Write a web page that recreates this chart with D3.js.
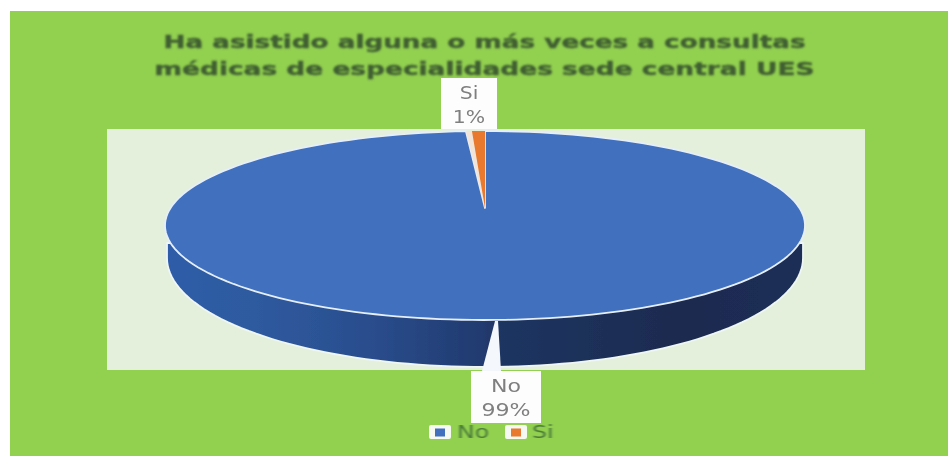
<!DOCTYPE html>
<html><head><meta charset="utf-8">
<script src="https://cdn.jsdelivr.net/npm/d3@7"></script>
<style>html,body{margin:0;padding:0;background:#fff}svg{display:block}text{font-family:"DejaVu Sans",sans-serif}</style>
</head><body><svg id="c" width="948" height="456"></svg>
<script>
const categories = ["No", "Si"];
const seriesValues = [99.35, 0.65];
const percentLabels = ["99%", "1%"];
const titleLines = ["Ha asistido alguna o más veces a consultas", "médicas de especialidades sede central UES"];
const colors = ["#4070be", "#e8792f"];

const svg = d3.select("#c");
const defs = svg.append("defs");
defs.append("filter").attr("id","soft").append("feGaussianBlur").attr("stdDeviation",0.6);
defs.append("filter").attr("id","softT").append("feGaussianBlur").attr("stdDeviation",0.9);
defs.append("filter").attr("id","edge").append("feGaussianBlur").attr("stdDeviation",0.45);
const grad = defs.append("linearGradient").attr("id","side").attr("x1",0).attr("x2",1).attr("y1",0).attr("y2",0);
[[0,"#2f5ca8"],[0.14,"#2f5a9f"],[0.32,"#2a4d8d"],[0.5,"#213a6e"],[0.52,"#1f3562"],[0.8,"#1a2b4f"],[1,"#1b2e56"]]
  .forEach(([o,c])=>grad.append("stop").attr("offset",o).attr("stop-color",c));

svg.append("rect").attr("x",10).attr("y",11).attr("width",938).attr("height",445).attr("fill","#92d050");
svg.append("rect").attr("x",107).attr("y",129).attr("width",758).attr("height",241).attr("fill","#e4efdc");

const cx=485, rimCy=225.5, rx=320, ry=94.5, apexY=208;
const baseCy=258, baseRx=318, baseRy=109;
const xs=d3.scaleLinear().domain([-1,1]).range([cx-rx,cx+rx]);
const ys=d3.scaleLinear().domain([-1,1]).range([rimCy-ry,rimCy+ry]);
const rim=a=>[xs(Math.sin(a)),ys(-Math.cos(a))];
const base=a=>[cx+baseRx*Math.sin(a),baseCy-baseRy*Math.cos(a)];
const line=d3.line();
const total=d3.sum(seriesValues);
const toAngle=d3.scaleLinear().domain([0,total]).range([0,2*Math.PI]);
const noStart=0, noEnd=toAngle(seriesValues[0]), siStart=noEnd, siEnd=2*Math.PI;
const sample=(a,b,n=180)=>d3.range(n+1).map(i=>rim(a+(b-a)*i/n));
const gap=toAngle(0.3);

// side wall, with a pale halo along its lower edge
const front=d3.range(91).map(i=>Math.PI/2+Math.PI*i/90);
const wall=[...front.map(base),[cx-baseRx,243],[cx+baseRx,243]];
svg.append("path").attr("d",line(wall)+"Z").attr("fill","url(#side)").attr("stroke","#eef6f6").attr("stroke-width",1.8).attr("stroke-linejoin","round").attr("filter","url(#edge)");
// notch in the wall under the "No" label
svg.append("path").attr("d",line([[495,321],[498,321],[501,371],[482,371]])+"Z").attr("fill","#f4f7fb").attr("filter","url(#edge)");
// top faces
svg.append("path").attr("d",line([[cx,apexY],...sample(noStart,noEnd-gap)])+"Z").attr("fill",colors[0]).attr("stroke","#e6eff8").attr("stroke-width",1.8).attr("stroke-linejoin","round").attr("filter","url(#edge)");
svg.append("path").attr("d",line([[cx,apexY],...sample(noEnd-gap,noEnd,4)])+"Z").attr("fill","#f3e4da");
svg.append("path").attr("d",line([[cx,apexY],...sample(siStart,siEnd,12)])+"Z").attr("fill",colors[1]).attr("filter","url(#edge)");

// labels
const labelBox=[{x:441,y:78,w:56,h:51,sx:1.2},{x:471,y:371,w:70,h:52,sx:1.3}];
const labelOrder=[1,0];
const stretched=(x,y,sx,anchor,size,fill,str)=>svg.append("text")
  .attr("transform",`translate(${x},${y}) scale(${sx},1)`).attr("text-anchor",anchor)
  .attr("font-size",size).attr("fill",fill).attr("filter","url(#soft)").text(str);
labelOrder.forEach((k,i)=>{
  const b=labelBox[i];
  svg.append("rect").attr("x",b.x).attr("y",b.y).attr("width",b.w).attr("height",b.h).attr("fill","#fdfdfd");
  stretched(b.x+b.w/2,b.y+20.5,b.sx,"middle",17,"#7f7f7f",categories[k]);
  stretched(b.x+b.w/2,b.y+44.5,b.sx,"middle",17,"#7f7f7f",percentLabels[k]);
});

// title
const titleWidth=[642,660];
titleLines.forEach((t,i)=>svg.append("text").attr("x",484.5).attr("y",48+i*27).attr("text-anchor","middle")
  .attr("font-size",18).attr("font-weight","bold").attr("fill","#3f5f30").attr("stroke","#3f5f30").attr("stroke-width",0.4)
  .attr("textLength",titleWidth[i]).attr("lengthAdjust","spacingAndGlyphs")
  .attr("filter","url(#softT)").text(t));

// legend
const legendX=[429,505], legendTextX=[457,532];
categories.forEach((c,i)=>{
  svg.append("rect").attr("x",legendX[i]).attr("y",425).attr("width",22).attr("height",14).attr("rx",2).attr("fill","#f6f8f2").attr("filter","url(#edge)");
  svg.append("rect").attr("x",legendX[i]+6).attr("y",428.5).attr("width",10).attr("height",8).attr("fill",colors[i]).attr("filter","url(#edge)");
  stretched(legendTextX[i],438,1.35,"start",17.5,"#4a7a38",c);
});
</script></body></html>
